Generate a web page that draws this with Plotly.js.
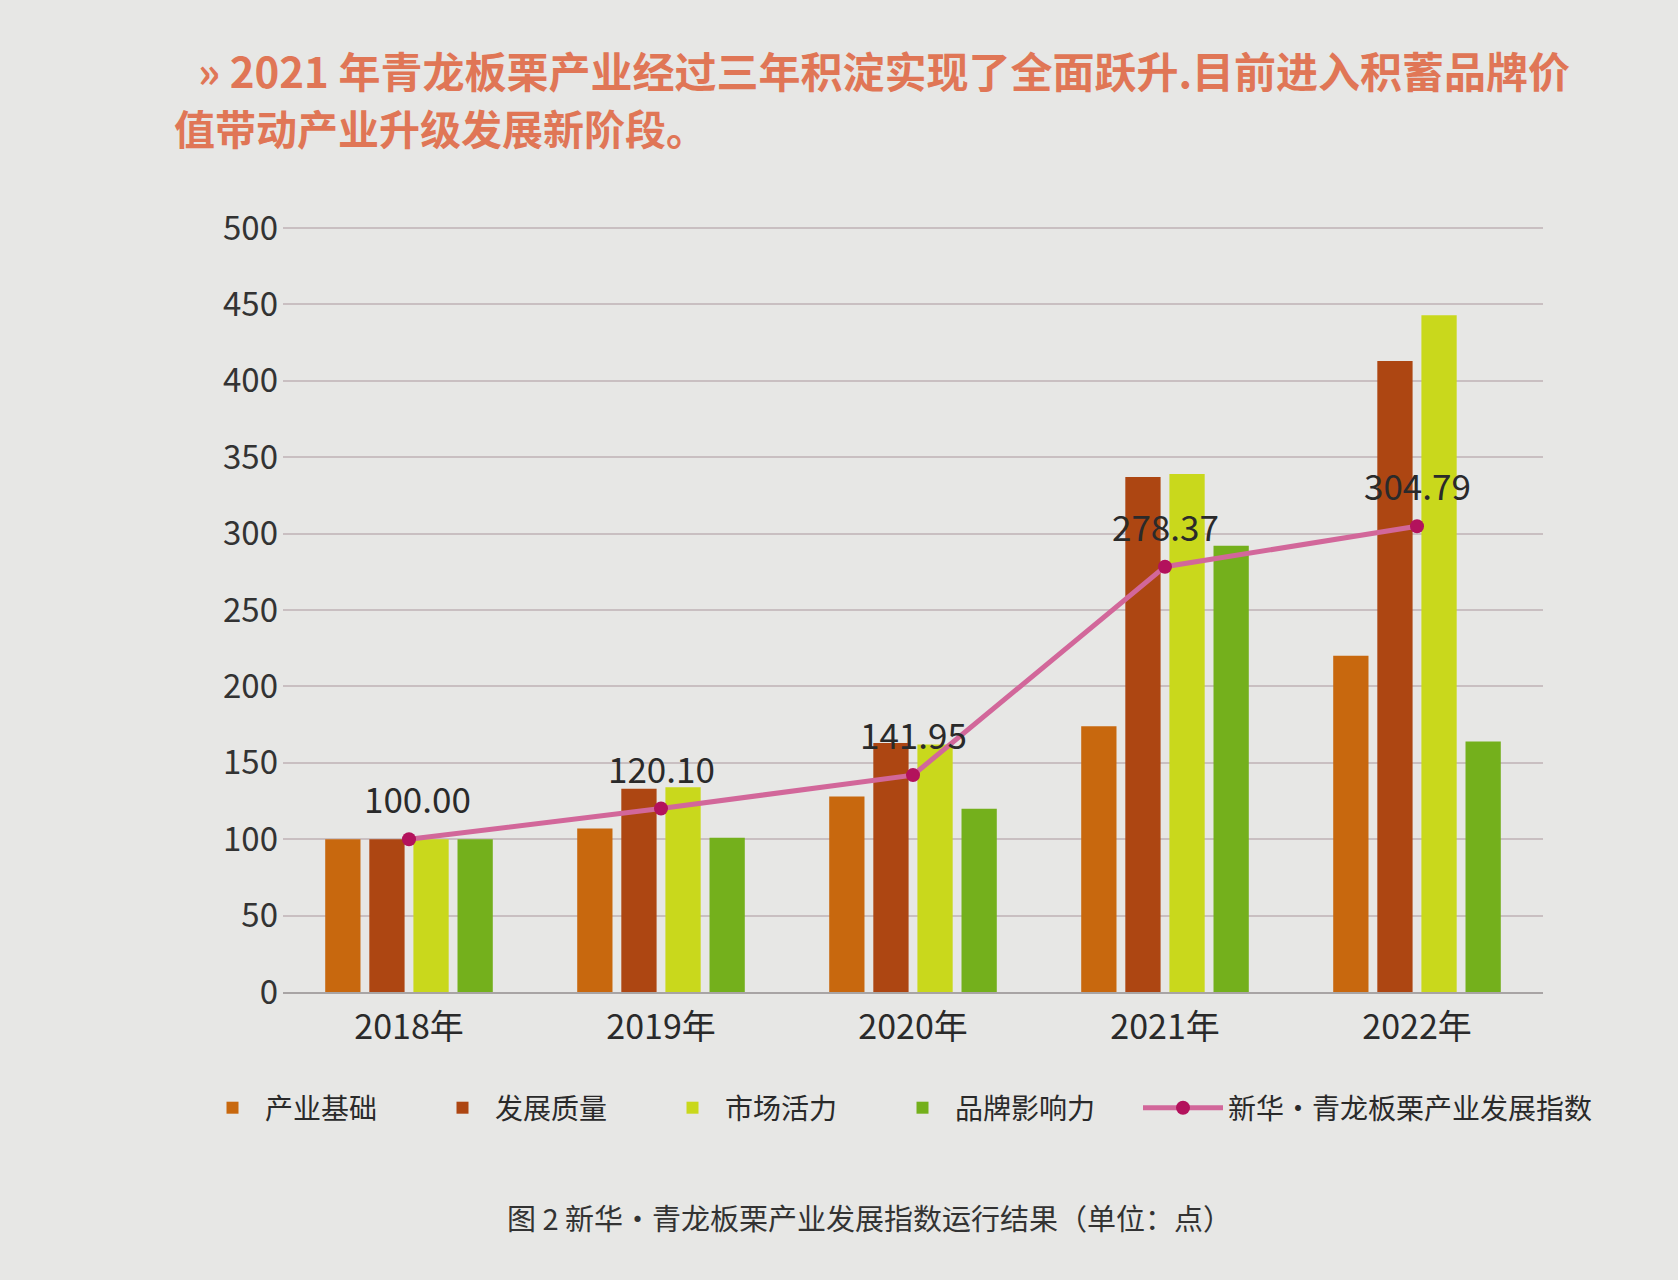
<!DOCTYPE html>
<html>
<head>
<meta charset="utf-8">
<script src="https://cdn.plot.ly/plotly-3.0.1.min.js"></script>
<style>html,body{margin:0;padding:0;background:#e7e7e5;}#chart{width:1678px;height:1280px;}</style>
</head>
<body>
<div id="chart"></div>
<script>
const years = ["2018年", "2019年", "2020年", "2021年", "2022年"];
const seriesNames = ["产业基础", "发展质量", "市场活力", "品牌影响力"];
const chanyeJichu = [100, 107, 128, 174, 220];
const fazhanZhiliang = [100, 133, 163, 337, 413];
const shichangHuoli = [100, 134, 162, 339, 443];
const pinpaiYingxiang = [100, 101, 120, 292, 164];
const indexName = "新华·青龙板栗产业发展指数";
const indexValues = [100.00, 120.10, 141.95, 278.37, 304.79];
const yTicks = [0, 50, 100, 150, 200, 250, 300, 350, 400, 450, 500];

const font = "'Noto Sans CJK SC', 'Noto Sans', sans-serif";
const barColors = ["#c8680e", "#ad4612", "#c9d81c", "#74b01c"];
const barSeries = [chanyeJichu, fazhanZhiliang, shichangHuoli, pinpaiYingxiang];

const traces = barSeries.map((vals, i) => ({
  type: "bar", name: seriesNames[i], x: years, y: vals,
  marker: {color: barColors[i]}, hoverinfo: "skip",
  legend: "legend", legendwidth: 160
}));
traces.push({
  type: "scatter", mode: "lines+markers", name: indexName,
  x: years, y: indexValues,
  line: {color: "#d2679a", width: 5},
  marker: {color: "#b3125c", size: 14},
  cliponaxis: false,
  legend: "legend2"
});

const L = 283, R = 1543, T = 225, B = 992;
const px = x => (x - L) / (R - L);
const py = y => (B - y) / (B - T);

const legendFont = {family: font, size: 28, color: "#2a2a2a"};

const valueLabels = years.map((yr, i) => ({
  x: yr, y: indexValues[i], xref: "x", yref: "y",
  text: indexValues[i].toFixed(2), showarrow: false,
  yanchor: "bottom", yshift: 14, xshift: i === 0 ? 8 : 0,
  font: {family: font, size: 35, color: "#2a2a2a"}
}));

const layout = {
  width: 1678, height: 1280,
  paper_bgcolor: "#e7e7e5", plot_bgcolor: "#e7e7e5",
  margin: {l: L, r: 1678 - R, t: T, b: 1280 - B, autoexpand: false},
  barmode: "group", bargap: 0.3, bargroupgap: 0.2,
  showlegend: true,
  font: {family: font, color: "#2a2a2a"},
  xaxis: {
    type: "category", showgrid: false, showline: true, linecolor: "#a8a4a4", linewidth: 2,
    tickfont: {family: font, size: 34, color: "#2a2a2a"}, ticks: "", ticklabelstandoff: 4,
    tickangle: 0, automargin: false
  },
  yaxis: {
    range: [0, 502], tickvals: yTicks, showgrid: true, gridcolor: "#c9bfc1", gridwidth: 2,
    zeroline: false, showline: false, automargin: false,
    tickfont: {family: font, size: 33, color: "#333333"}, ticklabelstandoff: 4
  },
  legend: {
    orientation: "h", x: px(200), xanchor: "left",
    y: py(1108), yanchor: "middle",
    font: legendFont, bgcolor: "rgba(0,0,0,0)",
    traceorder: "normal", itemwidth: 55
  },
  legend2: {
    orientation: "h", x: px(1138), xanchor: "left",
    y: py(1108), yanchor: "middle",
    font: legendFont, bgcolor: "rgba(0,0,0,0)", itemwidth: 80
  },
  annotations: valueLabels.concat([
    {xref: "paper", yref: "paper", x: px(196), y: py(70), xanchor: "left", yanchor: "middle",
     text: "<b>» 2021 年青龙板栗产业经过三年积淀实现了全面跃升.目前进入积蓄品牌价</b>",
     showarrow: false, font: {family: font, size: 42, color: "#e07656"}},
    {xref: "paper", yref: "paper", x: px(172), y: py(127), xanchor: "left", yanchor: "middle",
     text: "<b>值带动产业升级发展新阶段。</b>",
     showarrow: false, font: {family: font, size: 41, color: "#e07656"}},
    {xref: "paper", yref: "paper", x: px(869), y: py(1217), xanchor: "center", yanchor: "middle",
     text: "图 2 新华·青龙板栗产业发展指数运行结果（单位：点）",
     showarrow: false, font: {family: font, size: 29, color: "#333333"}}
  ])
};

Plotly.newPlot("chart", traces, layout, {displayModeBar: false, staticPlot: true});
</script>
</body>
</html>
